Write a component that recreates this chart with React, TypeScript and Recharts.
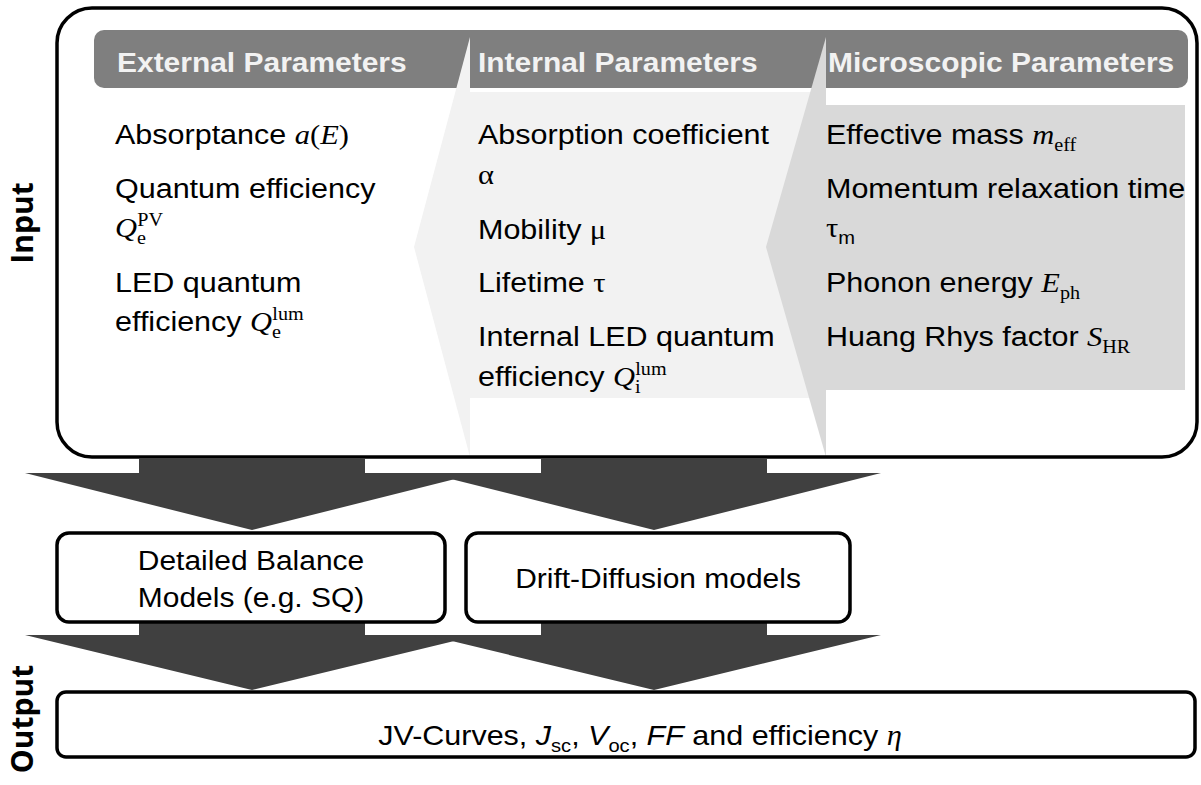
import { ScatterChart, Scatter, XAxis, YAxis, ReferenceArea } from "recharts"

const W = 1201
const H = 785

type Font = "sans" | "sansI" | "serif" | "serifI"
type Seg = { t: string; f?: Font; pos?: "sub" | "sup"; back?: number }
type Line = { y: number; seg: Seg[] }

const s = (t: string): Seg => ({ t })
const si = (t: string): Seg => ({ t, f: "sansI" })
const r = (t: string): Seg => ({ t, f: "serif" })
const ri = (t: string): Seg => ({ t, f: "serifI" })
const sub = (t: string, f: Font = "serif"): Seg => ({ t, f, pos: "sub" })
const sup = (t: string, back = 0): Seg => ({ t, f: "serif", pos: "sup", back })

// column headers
const headers = ["External Parameters", "Internal Parameters", "Microscopic Parameters"]
const headerX = [117, 478, 828]
const headerY = 72
const columnX = [115, 478, 826]

const externalParams: Line[] = [
  { y: 144, seg: [s("Absorptance "), ri("a"), r("("), ri("E"), r(")")] },
  { y: 198, seg: [s("Quantum efficiency")] },
  { y: 237, seg: [ri("Q"), sub("e"), sup("PV", 8)] },
  { y: 292, seg: [s("LED quantum")] },
  { y: 331, seg: [s("efficiency "), ri("Q"), sub("e"), sup("lum", 8)] },
]

const internalParams: Line[] = [
  { y: 144, seg: [s("Absorption coefficient")] },
  { y: 184, seg: [r("α")] },
  { y: 239, seg: [s("Mobility "), r("μ")] },
  { y: 292, seg: [s("Lifetime "), r("τ")] },
  { y: 346, seg: [s("Internal LED quantum")] },
  { y: 386, seg: [s("efficiency "), ri("Q"), sub("i"), sup("lum", 5)] },
]

const microscopicParams: Line[] = [
  { y: 144, seg: [s("Effective mass "), ri("m"), sub("eff")] },
  { y: 198, seg: [s("Momentum relaxation time")] },
  { y: 237, seg: [r("τ"), sub("m", "sans")] },
  { y: 292, seg: [s("Phonon energy "), ri("E"), sub("ph")] },
  { y: 346, seg: [s("Huang Rhys factor "), ri("S"), sub("HR")] },
]

// model boxes and output
const modelBoxes = [
  { x1: 57, x2: 445, lines: [{ y: 570, seg: [s("Detailed Balance")] }, { y: 607, seg: [s("Models (e.g. SQ)")] }] },
  { x1: 466, x2: 850, lines: [{ y: 588, seg: [s("Drift-Diffusion models")] }] },
]
const modelTop = 533
const modelBottom = 622
const outputBox = { x1: 57, x2: 1195, y1: 692, y2: 757 }
const outputText: Line = {
  y: 745,
  seg: [s("JV-Curves, "), si("J"), sub("sc", "sans"), s(", "), si("V"), sub("oc", "sans"), s(", "), si("FF"), s(" and efficiency "), ri("η")],
}
const sideLabels = [
  { text: "Input", y: 223 },
  { text: "Output", y: 719 },
]

// frame, header strip, shaded columns
const frame = { x1: 57, x2: 1197, y1: 8, y2: 457 }
const headerBar = { x1: 94, x2: 1188, y1: 30, y2: 88 }
const columnFills = [
  { x1: 470, x2: 826, y1: 92, y2: 398, fill: "#f2f2f2" },
  { x1: 826, x2: 1185, y1: 105, y2: 390, fill: "#d9d9d9" },
]
const chevrons = [
  { x1: 414, x2: 470, y1: 37, y2: 457, fill: "#f2f2f2" },
  { x1: 766, x2: 826, y1: 37, y2: 457, fill: "#d9d9d9" },
]

// block arrows
const arrowX = [252, 654]
const arrowRows = [
  { top: 458, neck: 473, tip: 530 },
  { top: 622, neck: 635, tip: 690 },
]
const shaftHalf = 113
const headHalf = 227

const SANS = "'Liberation Sans', Arial, sans-serif"
const SERIF = "'Liberation Serif', 'Times New Roman', serif"
const SX = 1.09

function RichText({ seg, size }: { seg: Seg[]; size: number }) {
  let off = 0
  return (
    <>
      {seg.map((g, i) => {
        const target = g.pos === "sub" ? size * 0.25 : g.pos === "sup" ? -size * 0.4 : 0
        const dy = target - off
        off = target
        const serif = g.f === "serif" || g.f === "serifI"
        const italic = g.f === "serifI" || g.f === "sansI"
        return (
          <tspan
            key={i}
            dy={dy || undefined}
            dx={g.back ? -g.back : undefined}
            fontFamily={serif ? SERIF : SANS}
            fontStyle={italic ? "italic" : "normal"}
            fontSize={g.pos ? size * 0.66 : size}
          >
            {g.t}
          </tspan>
        )
      })}
    </>
  )
}

type Label = {
  x: number
  y: number
  seg: Seg[]
  size: number
  bold?: boolean
  fill?: string
  anchor?: "start" | "middle"
  rotate?: boolean
  family?: string
  sx?: number
}

const labels: Label[] = [
  ...headers.map((h, i) => ({ x: headerX[i], y: headerY, seg: [s(h)], size: 28, bold: true, fill: "#f2f2f2", sx: 1.07 })),
  ...[externalParams, internalParams, microscopicParams].flatMap((col, i) =>
    col.map((l) => ({ x: columnX[i], y: l.y, seg: l.seg, size: 28 }))
  ),
  ...modelBoxes.flatMap((b) =>
    b.lines.map((l) => ({ x: (b.x1 + b.x2) / 2, y: l.y, seg: l.seg, size: 28, anchor: "middle" as const, sx: 1.07 }))
  ),
  { x: 640, y: outputText.y, seg: outputText.seg, size: 28.5, anchor: "middle", sx: 1.07 },
  ...sideLabels.map((l) => ({
    x: 33,
    y: l.y,
    seg: [s(l.text)],
    size: 30,
    bold: true,
    anchor: "middle" as const,
    rotate: true,
    family: "'Open Sans', sans-serif",
  })),
]

const renderLabel = (p: any) => {
  const d = p.payload as Label
  const tf = d.rotate
    ? `translate(${p.cx},${p.cy}) rotate(-90)`
    : `translate(${p.cx},${p.cy}) scale(${d.sx ?? SX},1)`
  return (
    <g transform={tf}>
      <text
        x={0}
        y={0}
        textAnchor={d.anchor ?? "start"}
        fontFamily={d.family ?? SANS}
        fontWeight={d.bold ? 700 : 400}
        fontSize={d.size}
        fill={d.fill ?? "#000"}
        style={{ whiteSpace: "pre" }}
      >
        {d.family ? d.seg[0].t : <RichText seg={d.seg} size={d.size} />}
      </text>
    </g>
  )
}

const roundRect = (rx: number, fill: string, stroke?: string, sw = 0) => (p: any) => (
  <rect x={p.x} y={p.y} width={p.width} height={p.height} rx={rx} fill={fill} stroke={stroke} strokeWidth={sw} />
)

const chevronShape = (fill: string) => (p: any) => (
  <polygon
    points={`${p.x + p.width},${p.y} ${p.x},${p.y + p.height / 2} ${p.x + p.width},${p.y + p.height}`}
    fill={fill}
  />
)

const arrowShape = (row: { top: number; neck: number; tip: number }) => (p: any) => {
  const cx = p.x + p.width / 2
  const sh = (p.width * shaftHalf) / (2 * headHalf)
  const ny = p.y + (p.height * (row.neck - row.top)) / (row.tip - row.top)
  const pts = [
    [cx - sh, p.y],
    [cx + sh, p.y],
    [cx + sh, ny],
    [p.x + p.width, ny],
    [cx, p.y + p.height],
    [p.x, ny],
    [cx - sh, ny],
  ]
  return <polygon points={pts.map((q) => q.join(",")).join(" ")} fill="#404040" />
}

export default function App() {
  return (
    <div style={{ position: "absolute", left: 0, top: 0, width: W, height: H, background: "#fff" }}>
      <ScatterChart width={W} height={H} margin={{ top: 0, right: 0, bottom: 0, left: 0 }}>
        <XAxis type="number" dataKey="x" domain={[0, W]} allowDataOverflow hide />
        <YAxis type="number" dataKey="y" domain={[0, H]} allowDataOverflow reversed hide />

        <ReferenceArea {...headerBar} shape={roundRect(10, "#7f7f7f")} />
        {columnFills.map((c, i) => (
          <ReferenceArea key={`f${i}`} x1={c.x1} x2={c.x2} y1={c.y1} y2={c.y2} shape={roundRect(0, c.fill)} />
        ))}
        {chevrons.map((c, i) => (
          <ReferenceArea key={`c${i}`} x1={c.x1} x2={c.x2} y1={c.y1} y2={c.y2} shape={chevronShape(c.fill)} />
        ))}
        <ReferenceArea {...frame} shape={roundRect(35, "none", "#000", 3.5)} />

        {arrowRows.flatMap((row, j) =>
          arrowX.map((x, i) => (
            <ReferenceArea
              key={`a${j}${i}`}
              x1={x - headHalf}
              x2={x + headHalf}
              y1={row.top}
              y2={row.tip}
              shape={arrowShape(row)}
            />
          ))
        )}

        {modelBoxes.map((b, i) => (
          <ReferenceArea
            key={`m${i}`}
            x1={b.x1}
            x2={b.x2}
            y1={modelTop}
            y2={modelBottom}
            shape={roundRect(12, "#fff", "#000", 3.5)}
          />
        ))}
        <ReferenceArea {...outputBox} shape={roundRect(9, "#fff", "#000", 3.5)} />

        <Scatter data={labels} shape={renderLabel} isAnimationActive={false} />
      </ScatterChart>
    </div>
  )
}
